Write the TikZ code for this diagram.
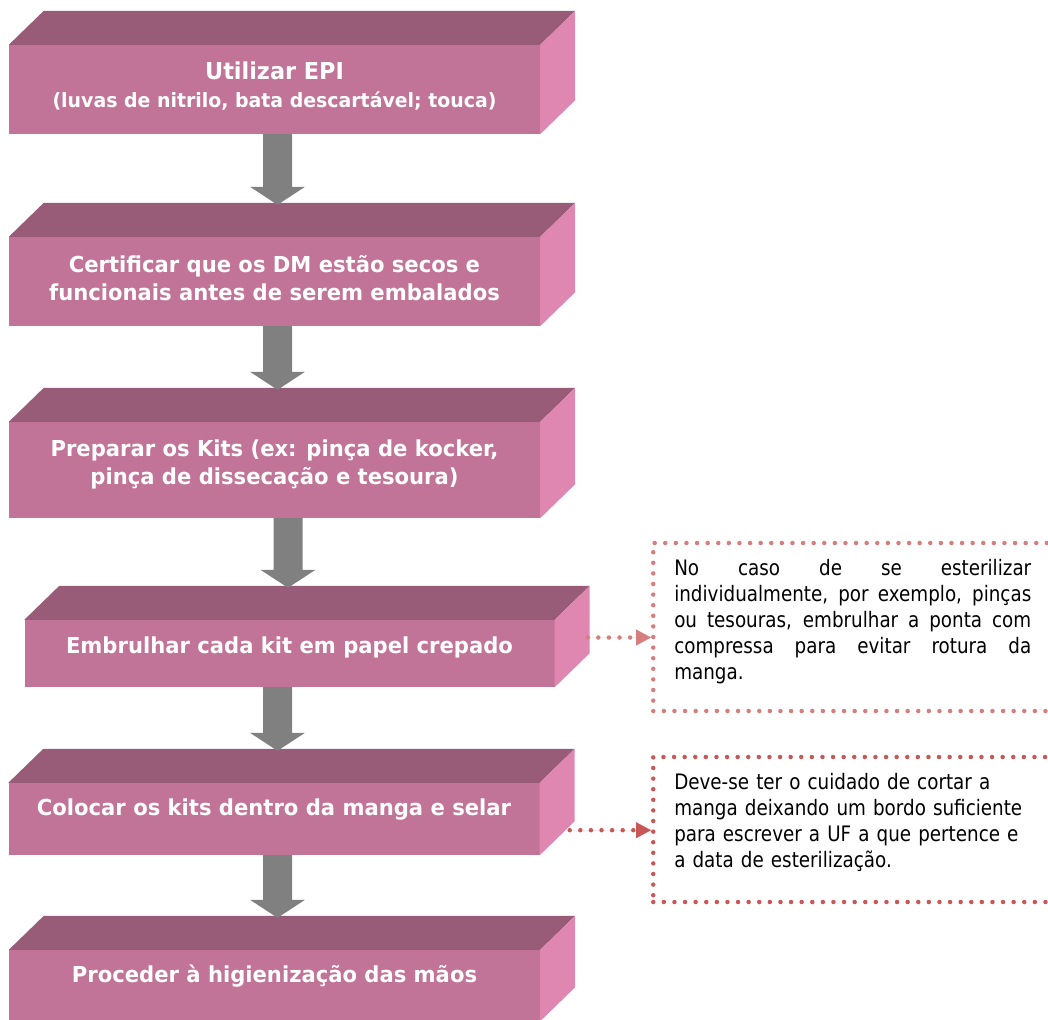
\documentclass[tikz,border=0pt]{standalone}
\usepackage{fontspec}
\setsansfont{DejaVu Sans}[FakeStretch=0.86]
\newfontfamily\stepfont{DejaVu Sans}[FakeStretch=0.96]
\usepackage{xcolor}
\usepackage{tikz}
\usetikzlibrary{arrows.meta, calc}

\definecolor{facefront}{RGB}{194,116,152}
\definecolor{facetop}{RGB}{152,91,120}
\definecolor{faceside}{RGB}{223,135,177}
\definecolor{arrowgray}{RGB}{128,128,128}
\definecolor{noteone}{RGB}{214,126,126}
\definecolor{notetwo}{RGB}{200,88,88}

\begin{document}
\begin{tikzpicture}[x=1pt, y=-1pt, every node/.style={font=\sffamily},
  face/.style={fill=facefront, minimum width=531pt, inner sep=0pt},
  steptext/.style={text=white, font=\stepfont\bfseries\fontsize{22}{28}\selectfont, align=center},
  dotline/.style={line width=4.5pt, dash pattern=on 0pt off 10.6pt, line cap=round},
  notebox/.style={dotline, text width=357pt, inner xsep=21pt, inner ysep=0pt,
    font=\sffamily\fontsize{21.3}{26}\selectfont, text=black},
  tip/.style={-{Triangle[length=15pt, width=16pt, line width=0.1pt]}}]
  \useasboundingbox (0,0) rectangle (1048,1019);
  \clip (0,0) rectangle (1048,1019);
  % ---------- STEPS: front faces ----------
  \node[face, minimum height=89pt, label={[steptext, yshift=3pt]center:{{\fontsize{23.3}{28}\selectfont Utilizar EPI}\\{\fontsize{19.7}{28}\selectfont(luvas de nitrilo, bata descartável; touca)}}}] (f1) at (274.5,89.5) {};
  \node[face, minimum height=89pt, label={[steptext, yshift=3pt]center:{Certificar que os DM estão secos e\\funcionais antes de serem embalados}}] (f2) at (274.5,281.5) {};
  \node[face, minimum height=96pt, label={[steptext, yshift=6pt]center:{Preparar os Kits (ex: pinça de kocker,\\pinça de dissecação e tesoura)}}] (f3) at (274.5,470) {};
  \node[face, minimum height=67pt, minimum width=530pt, label={[steptext, yshift=6pt]center:{Embrulhar cada kit em papel crepado}}] (f4) at (289.5,653.5) {};
  \node[face, minimum height=72pt, label={[steptext, yshift=9pt]center:{Colocar os kits dentro da manga e selar}}] (f5) at (274,819) {};
  \node[face, minimum height=71pt, label={[steptext, yshift=9pt]center:{Proceder à higienização das mãos}}] (f6) at (274.5,985.5) {};
  % ---------- STEPS: top and side faces ----------
  \foreach \f in {f1,f2,f3,f4,f5,f6} {
    \fill[facetop] (\f.north west) -- ++(35,-34) -- ($(\f.north east)+(35,-34)$) -- (\f.north east) -- cycle;
    \fill[faceside] (\f.north east) -- ++(35,-34) -- ($(\f.south east)+(35,-34)$) -- (\f.south east) -- cycle;
  }
  % ---------- ARROWS between steps ----------
  \foreach \a/\b/\dx in {f1/f2/3, f2/f3/3, f3/f4/13.5, f4/f5/-12, f5/f6/3.5} {
    \coordinate (s) at ($(\a.south)+(\dx,0)$);
    \coordinate (t) at ($(s |- \b.north)+(0,-32)$);
    \fill[arrowgray] ($(s)+(-14.5,0)$) -- ($(t)+(-14.5,-18)$) -- ($(t)+(-27.5,-18)$) -- (t)
      -- ($(t)+(27.5,-18)$) -- ($(t)+(14.5,-18)$) -- ($(s)+(14.5,0)$) -- cycle;
  }
  % ---------- NOTES ----------
  \node[notebox, draw=noteone, align=justify, minimum height=168pt, anchor=west] (n1) at (651,627)
    {No caso de se esterilizar\linebreak individualmente, por exemplo, pinças\linebreak ou tesouras, embrulhar a ponta com\linebreak compressa para evitar rotura da\linebreak manga.\par\vspace{11pt}};
  \node[notebox, draw=notetwo, align=left, minimum height=145pt, anchor=west] (n2) at (651,829.5)
    {Deve-se ter o cuidado de cortar a\\manga deixando um bordo suficiente\\para escrever a UF a que pertence e\\a data de esterilização.\par\vspace{14pt}};
  \coordinate (c4) at ($(f4.east)+(33,-16)$);
  \coordinate (c5) at ($(f5.south east)+(30,-25)$);
  \draw[dotline, noteone, tip, fill=noteone] (c4) -- (c4 -| n1.west);
  \draw[dotline, notetwo, tip, fill=notetwo] (c5) -- (c5 -| n2.west);
\end{tikzpicture}
\end{document}
